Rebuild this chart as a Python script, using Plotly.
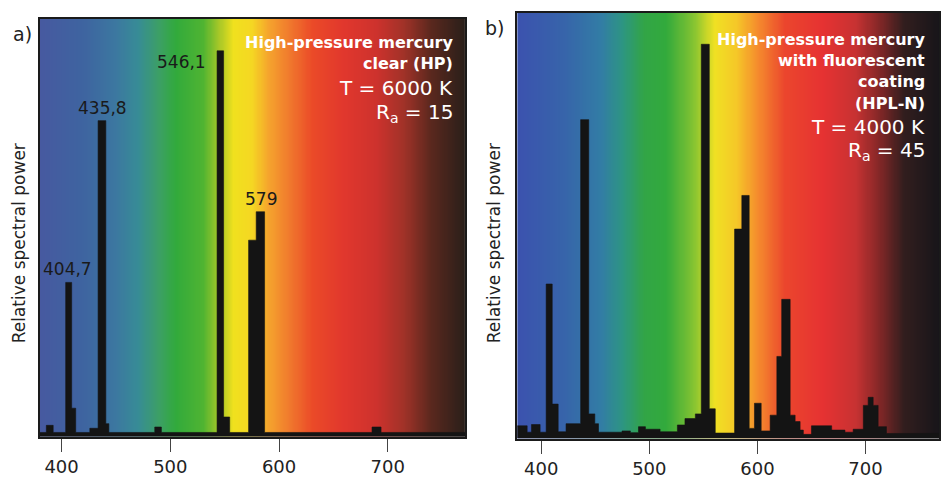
import numpy as np
import plotly.graph_objects as go

# ---------------- data ----------------
# Panel a: high-pressure mercury, clear (HP) — step spectrum (bin start wavelength, relative power)
a_edges = [380, 386, 392.3, 403.8, 409.3, 413, 426, 433.6, 440.7, 443.5, 485.7, 491.8,
           543, 549, 554.6, 572, 579, 586.7, 685.5, 693.8, 771]
a_power = [1.0, 2.7, 1.0, 36.9, 6.8, 1.0, 2.0, 75.6, 3.1, 1.0, 2.3, 1.0,
           92.3, 4.7, 1.0, 47.0, 53.8, 1.0, 2.3, 1.0, 1.0]

# Panel b: high-pressure mercury with fluorescent coating (HPL-N)
b_edges = [377.8, 387, 391, 399, 404.6, 410.2, 415.7, 423, 436.5, 444, 449.6, 453, 474.8,
           482.5, 490, 496.4, 510, 526, 533, 542.6, 548.1, 555.5, 561, 578.9, 585.6, 592.4,
           597.3, 603.5, 611.8, 618, 622.5, 630.3, 634.9, 639.5, 642.5, 650, 668.7, 681,
           688.6, 698, 702.5, 707.1, 711.7, 719.4, 768]
b_power = [3.0, 1.5, 3.3, 1.5, 36.3, 8.1, 1.6, 3.5, 74.9, 5.8, 3.5, 1.5, 1.8,
           1.4, 2.8, 2.2, 1.6, 3.2, 4.7, 5.8, 92.6, 7.0, 1.3, 49.2, 57.1, 2.4,
           8.3, 1.8, 5.5, 19.3, 32.7, 5.5, 4.0, 2.0, 1.0, 3.0, 2.0, 1.5,
           2.2, 7.8, 9.7, 7.8, 2.8, 1.2, 1.2]

# Peak labels on panel a: (text, wavelength, power)
a_peak_text = ["404,7", "435,8", "546,1", "579"]
a_peak_wl = [405.8, 437.2, 534.5, 583.5]
a_peak_pw = [36.9, 75.6, 89.7, 53.8]

tick_vals = [400, 500, 600, 700]
y_title = "Relative spectral power"

a_lines = ["<b>High-pressure mercury</b>", "<b>clear (HP)</b>", "T = 6000 K", "R<sub>a</sub> = 15"]
b_lines = ["<b>High-pressure mercury</b>", "<b>with fluorescent</b>", "<b>coating</b>",
           "<b>(HPL-N)</b>", "T = 4000 K", "R<sub>a</sub> = 45"]

# ---------------- background spectrum colours (style) ----------------
a_bg_wl = [375, 420, 450, 470, 490, 505, 530, 545, 558, 575, 590, 610, 630, 660, 690, 715, 740, 775]
a_bg_rgb = [(72, 88, 160), (62, 100, 160), (60, 120, 160), (55, 140, 150), (60, 160, 100),
            (50, 170, 60), (80, 180, 50), (170, 200, 40), (240, 225, 30), (245, 215, 35),
            (245, 165, 45), (240, 120, 45), (235, 75, 40), (225, 55, 45), (205, 50, 45),
            (160, 50, 40), (90, 40, 30), (35, 30, 25)]
b_bg_wl = [372, 420, 455, 475, 495, 515, 540, 560, 580, 600, 625, 660, 690, 710, 735, 772]
b_bg_rgb = [(60, 80, 175), (55, 100, 170), (50, 125, 165), (45, 150, 130), (50, 165, 70),
            (50, 170, 60), (130, 195, 50), (240, 225, 35), (245, 200, 40), (245, 140, 45),
            (235, 70, 45), (230, 50, 50), (200, 50, 50), (140, 40, 40), (50, 30, 30),
            (20, 20, 25)]

W, H = 941, 479
FONT = "DejaVu Sans"


def px_x(p):
    return p / W


def px_y(p):
    return 1 - p / H


def colorscale(wls, rgbs):
    lo, hi = wls[0], wls[-1]
    return [[(w - lo) / (hi - lo), "rgb(%d,%d,%d)" % c] for w, c in zip(wls, rgbs)]


def background(wls, rgbs, xaxis, yaxis):
    grid = np.arange(wls[0], wls[-1] + 0.5, 1.0)
    return go.Heatmap(x=grid, y=[-10, 110], z=[grid, grid], zmin=wls[0], zmax=wls[-1],
                      colorscale=colorscale(wls, rgbs), zsmooth="best", showscale=False,
                      hoverinfo="skip", xaxis=xaxis, yaxis=yaxis)


def spectrum(edges, power, xaxis, yaxis):
    return go.Scatter(x=edges, y=power, mode="lines", line_shape="hv",
                      line=dict(color="#141414", width=0.6), fill="tozeroy",
                      fillcolor="#141414", hoverinfo="skip", xaxis=xaxis, yaxis=yaxis)


fig = go.Figure()
fig.add_trace(background(a_bg_wl, a_bg_rgb, "x", "y"))
fig.add_trace(spectrum(a_edges, a_power, "x", "y"))
fig.add_trace(background(b_bg_wl, b_bg_rgb, "x2", "y2"))
fig.add_trace(spectrum(b_edges, b_power, "x2", "y2"))

xax = dict(tickvals=tick_vals, ticks="outside", ticklen=13, tickwidth=1, tickcolor="#444",
           showgrid=False, zeroline=False, showline=True, mirror=True, linecolor="#1a1a1a",
           linewidth=2, tickfont=dict(family=FONT, size=18, color="#222"), fixedrange=True)
yax = dict(range=[0, 100], showticklabels=False, ticks="", showgrid=False, zeroline=False,
           showline=True, mirror=True, linecolor="#1a1a1a", linewidth=1.5, fixedrange=True)

fig.update_layout(
    width=W, height=H, margin=dict(l=0, r=0, t=0, b=0),
    paper_bgcolor="white", plot_bgcolor="white", showlegend=False,
    xaxis=dict(xax, domain=[px_x(40), px_x(466)], range=[380.1, 771], anchor="y"),
    yaxis=dict(yax, domain=[px_y(445), px_y(19)], anchor="x"),
    xaxis2=dict(xax, domain=[px_x(518.3), 1.0], range=[377.8, 768], anchor="y2"),
    yaxis2=dict(yax, domain=[px_y(447), px_y(13)], anchor="x2"),
)


def paper_text(text, x, y, size, color, xanchor="center", angle=0):
    return dict(text=text, x=px_x(x), y=px_y(y), xref="paper", yref="paper",
                xanchor=xanchor, yanchor="middle", textangle=angle, showarrow=False,
                font=dict(family=FONT, size=size, color=color))


ann = []
# panel letters
ann.append(paper_text("a)", 23, 35, 19, "#222"))
ann.append(paper_text("b)", 496, 29, 19, "#222"))
# y titles
for xc in (19, 495):
    ann.append(paper_text(y_title, xc, 248, 17, "#222", angle=-90))

# white description text
a_y = [43, 65, 90, 115]
for t, yy in zip(a_lines, a_y):
    size = 16 if t.startswith("<b>") else 20
    ann.append(paper_text(t, 456, yy, size, "white", xanchor="right"))
b_y = [40, 62, 83, 105, 129, 154]
for t, yy in zip(b_lines, b_y):
    size = 16 if t.startswith("<b>") else 20
    ann.append(paper_text(t, 929, yy, size, "white", xanchor="right"))

# peak labels panel a
for t, wl, pw in zip(a_peak_text, a_peak_wl, a_peak_pw):
    if t == "546,1":
        ann.append(dict(text=t, x=wl, y=pw, xref="x", yref="y", xanchor="right",
                        yanchor="middle", showarrow=False,
                        font=dict(family=FONT, size=17, color="#1a1a1a")))
    else:
        ann.append(dict(text=t, x=wl, y=pw, xref="x", yref="y", xanchor="center",
                        yanchor="middle", yshift=13, showarrow=False,
                        font=dict(family=FONT, size=17, color="#1a1a1a")))

fig.update_layout(annotations=ann)
fig.write_html("out.html")
